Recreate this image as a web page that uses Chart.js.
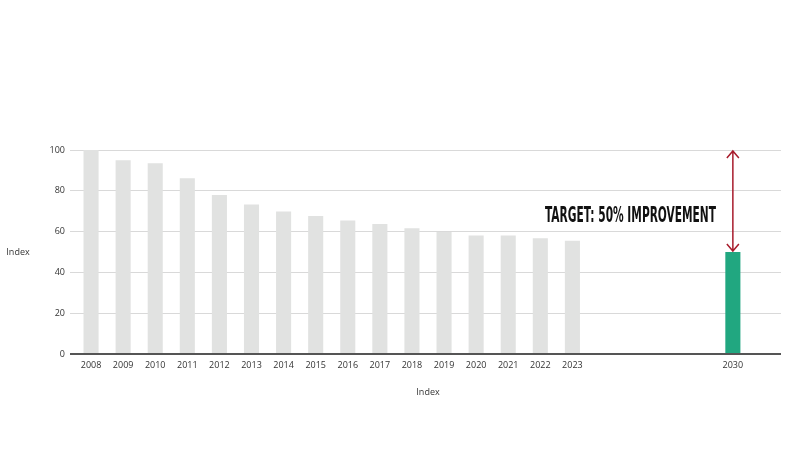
<!DOCTYPE html>
<html>
<head>
<meta charset="utf-8">
<script src="https://cdn.jsdelivr.net/npm/chart.js@4/dist/chart.umd.min.js"></script>
<style>
html,body{margin:0;padding:0;background:#fff;}
#wrap{width:800px;height:450px;}
</style>
</head>
<body>
<div id="wrap"><canvas id="c" width="800" height="450"></canvas></div>
<script>
const categories = ['2008','2009','2010','2011','2012','2013','2014','2015','2016','2017','2018','2019','2020','2021','2022','2023','','','','','2030',''];
const historyValues = [100,95,93.5,86.2,78,73.3,69.8,67.7,65.4,63.7,61.6,59.8,58.1,58.1,56.7,55.5,null,null,null,null,null,null];
const targetValues = [null,null,null,null,null,null,null,null,null,null,null,null,null,null,null,null,null,null,null,null,50,null];
const yTicks = [0,20,40,60,80,100];
const baselineValue = 100;
const targetLabel = 'TARGET: 50% IMPROVEMENT';
const axisTitle = 'Index';

const annot = {
  id: 'annot',
  afterDatasetsDraw(chart) {
    const ctx = chart.ctx;
    const xs = chart.scales.x, ys = chart.scales.y;
    const ti = targetValues.findIndex(v => v !== null);
    const x = xs.getPixelForValue(ti);
    const y1 = ys.getPixelForValue(baselineValue) + 1;
    const y2 = ys.getPixelForValue(targetValues[ti]) - 1;
    ctx.save();
    ctx.strokeStyle = '#a81c2c';
    ctx.lineWidth = 1.5;
    ctx.beginPath();
    ctx.moveTo(x, y1); ctx.lineTo(x, y2);
    ctx.moveTo(x - 6, y1 + 7); ctx.lineTo(x, y1); ctx.lineTo(x + 6, y1 + 7);
    ctx.moveTo(x - 6, y2 - 7); ctx.lineTo(x, y2); ctx.lineTo(x + 6, y2 - 7);
    ctx.stroke();
    ctx.fillStyle = '#111';
    ctx.font = 'bold 21px "Liberation Sans Narrow", "DejaVu Sans Condensed", sans-serif';
    ctx.textBaseline = 'alphabetic';
    const w = ctx.measureText(targetLabel).width;
    const targetW = 171;
    ctx.translate(545, 221.5);
    ctx.scale(targetW / w, 1);
    ctx.fillText(targetLabel, 0, 0);
    ctx.restore();
    ctx.save();
    ctx.fillStyle = '#333';
    ctx.font = '9px "Open Sans", sans-serif';
    ctx.textAlign = 'center';
    ctx.textBaseline = 'middle';
    ctx.fillText(axisTitle, 18, (ys.top + ys.bottom) / 2);
    ctx.restore();
  }
};

new Chart(document.getElementById('c'), {
  type: 'bar',
  data: {
    labels: categories,
    datasets: [
      { data: historyValues, backgroundColor: '#e1e2e1', barPercentage: 0.47, categoryPercentage: 1, grouped: false },
      { data: targetValues, backgroundColor: '#21a780', barPercentage: 0.47, categoryPercentage: 1, grouped: false }
    ]
  },
  options: {
    responsive: false,
    animation: false,
    devicePixelRatio: 1,
    layout: { padding: { top: 150, right: 19, left: 0, bottom: 48 } },
    plugins: { legend: { display: false }, tooltip: { enabled: false } },
    scales: {
      x: {
        grid: { display: false, drawTicks: false },
        border: { display: false },
        ticks: { color: '#333', font: { family: 'Open Sans', size: 9 }, padding: 6, maxRotation: 0, autoSkip: false },
        title: { display: true, text: axisTitle, color: '#333', font: { family: 'Open Sans', size: 9 }, padding: { top: 16, bottom: 4 } },
        afterFit(s) { s.height = 48; }
      },
      y: {
        min: 0, max: 100,
        afterBuildTicks(s) { s.ticks = yTicks.map(v => ({ value: v })); },
        grid: {
          color: ctx => ctx.tick && ctx.tick.value === 0 ? '#555' : '#d9d9d9',
          lineWidth: ctx => ctx.tick && ctx.tick.value === 0 ? 2 : 1,
          tickLength: 5
        },
        border: { display: false },
        ticks: { color: '#333', font: { family: 'Open Sans', size: 9 }, padding: 5 },
        afterFit(s) { s.width = 75; }
      }
    }
  },
  plugins: [annot]
});
</script>
</body>
</html>
